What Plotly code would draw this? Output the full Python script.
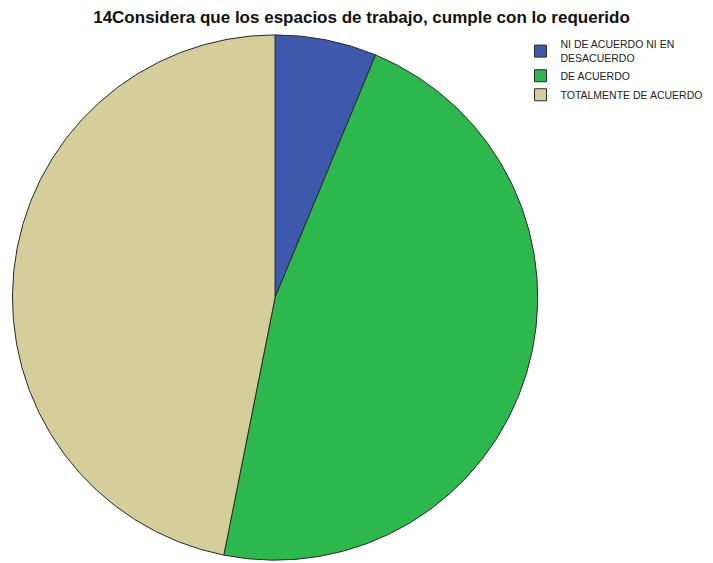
import plotly.graph_objects as go

categories = ["NI DE ACUERDO NI EN<br>DESACUERDO", "DE ACUERDO", "TOTALMENTE DE ACUERDO"]
counts = [2, 15, 15]
colors = ["#3e58ac", "#2db84d", "#d5ce9b"]

fig = go.Figure(go.Pie(
    labels=categories,
    values=counts,
    sort=False,
    direction="clockwise",
    rotation=0,
    textinfo="none",
    hoverinfo="label+percent",
    marker=dict(colors=colors, line=dict(color="#2a2a2a", width=1)),
    domain=dict(x=[0.0126, 0.759], y=[0.005, 0.938]),
))

fig.update_layout(
    width=713, height=563,
    margin=dict(l=0, r=0, t=0, b=0),
    paper_bgcolor="white",
    title=dict(
        text="<b>14Considera que los espacios de trabajo, cumple con lo requerido</b>",
        x=0.507, xanchor="center", y=0.97, yanchor="middle",
        font=dict(family="Liberation Sans, Arial, sans-serif", size=17, color="#111"),
    ),
    legend=dict(
        x=0.73, y=0.945, xanchor="left", yanchor="top",
        font=dict(family="Liberation Sans, Arial, sans-serif", size=10.5, color="#222"),
        itemwidth=30, tracegroupgap=0,
        bgcolor="rgba(0,0,0,0)",
    ),
)

fig.write_html("out.html")
